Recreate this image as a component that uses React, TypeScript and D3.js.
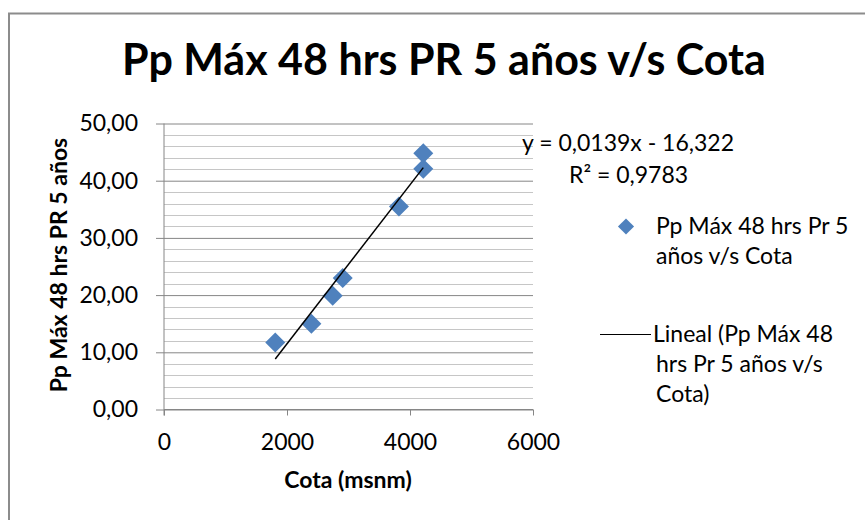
import React, { useEffect, useRef } from "react";
import * as d3 from "d3";

// elevation (m a.s.l.) and max 48h rainfall, 5-year return period
const cotas = [1809, 2396, 2743, 2906, 3820, 4216, 4216];
const ppMax = [11.7, 15.0, 19.9, 23.0, 35.5, 42.1, 44.8];

const xTicks = [0, 2000, 4000, 6000];
const yTicks = [0, 10, 20, 30, 40, 50];
const yMinor = d3.range(0, 51, 2);

const trendSlope = 0.0139;
const trendIntercept = -16.322;

const title = "Pp Máx 48 hrs PR 5 años v/s Cota";
const xTitle = "Cota (msnm)";
const yTitle = "Pp Máx 48 hrs PR 5 años";
const eqText = "y = 0,0139x - 16,322";
const r2Text = "R² = 0,9783";
const legendSeries = ["Pp Máx 48 hrs Pr 5", "años v/s Cota"];
const legendTrend = ["Lineal (Pp Máx 48", "hrs Pr 5 años v/s", "Cota)"];

const W = 865;
const H = 520;
const FONT = "Lato, 'Open Sans', sans-serif";
const BLUE = "#4f81bd";

const esLocale = d3.formatLocale({
  decimal: ",",
  thousands: ".",
  grouping: [3],
  currency: ["", ""],
});

const App: React.FC = () => {
  const svgRef = useRef<SVGSVGElement>(null);

  useEffect(() => {
    if (!svgRef.current) return;
    const svg = d3.select(svgRef.current);
    svg.selectAll("*").remove();

    const plot = { left: 164, right: 533, top: 123.5, bottom: 409.5 };

    const x = d3.scaleLinear().domain([0, 6000]).range([plot.left, plot.right]);
    const y = d3.scaleLinear().domain([0, 50]).range([plot.bottom, plot.top]);

    // chart frame
    svg
      .append("rect")
      .attr("x", 9)
      .attr("y", 13.5)
      .attr("width", W)
      .attr("height", H)
      .attr("fill", "#fff")
      .attr("stroke", "#8c8c8c")
      .attr("stroke-width", 2);

    svg
      .append("text")
      .attr("x", 444)
      .attr("y", 75)
      .attr("text-anchor", "middle")
      .attr("font-family", FONT)
      .attr("font-weight", "bold")
      .attr("font-size", 43)
      .text(title);

    // minor gridlines
    svg
      .append("g")
      .selectAll("line")
      .data(yMinor.filter((v) => v % 10 !== 0))
      .join("line")
      .attr("x1", plot.left)
      .attr("x2", plot.right)
      .attr("y1", (d) => Math.round(y(d)) + 0.5)
      .attr("y2", (d) => Math.round(y(d)) + 0.5)
      .attr("stroke", "#c6c6c6")
      .attr("stroke-width", 1);

    // major gridlines
    svg
      .append("g")
      .attr("transform", `translate(${plot.left},0)`)
      .call(
        d3
          .axisLeft(y)
          .tickValues(yTicks)
          .tickSize(-(plot.right - plot.left))
          .tickFormat(() => "") as any
      )
      .call((g) => g.select(".domain").remove())
      .selectAll("line")
      .attr("stroke", "#868686");

    // y axis
    const yAxis = svg
      .append("g")
      .attr("transform", `translate(${plot.left},0)`)
      .call(
        d3
          .axisLeft(y)
          .tickValues(yTicks)
          .tickSize(8)
          .tickPadding(18)
          .tickFormat((d) => esLocale.format(".2f")(d as number)) as any
      );
    yAxis.select(".domain").attr("stroke", "#868686").attr("d", `M0,${plot.top}V${plot.bottom + 6}`);
    yAxis.selectAll("line").attr("stroke", "#868686");
    yAxis
      .selectAll("text")
      .attr("font-family", FONT)
      .attr("font-size", 23)
      .attr("fill", "#000");

    // x axis
    const xAxis = svg
      .append("g")
      .attr("transform", `translate(0,${plot.bottom})`)
      .call(
        d3
          .axisBottom(x)
          .tickValues(xTicks)
          .tickSize(6)
          .tickPadding(18)
          .tickFormat((d) => String(d)) as any
      );
    xAxis.select(".domain").attr("stroke", "#868686").attr("d", `M${plot.left},0H${plot.right}`);
    xAxis.selectAll("line").attr("stroke", "#868686");
    xAxis
      .selectAll("text")
      .attr("font-family", FONT)
      .attr("font-size", 23)
      .attr("fill", "#000");

    // axis titles
    svg
      .append("text")
      .attr("x", 348)
      .attr("y", 488)
      .attr("text-anchor", "middle")
      .attr("font-family", FONT)
      .attr("font-weight", "bold")
      .attr("font-size", 23)
      .text(xTitle);

    svg
      .append("text")
      .attr("transform", "translate(67,265) rotate(-90)")
      .attr("text-anchor", "middle")
      .attr("font-family", FONT)
      .attr("font-weight", "bold")
      .attr("font-size", 23)
      .text(yTitle);

    // data points
    const diamond = d3.symbol().type(d3.symbolSquare).size(200);
    svg
      .append("g")
      .selectAll("path")
      .data(cotas.map((c, i) => ({ x: c, y: ppMax[i] })))
      .join("path")
      .attr("d", diamond())
      .attr("transform", (d) => `translate(${x(d.x)},${y(d.y)}) rotate(45)`)
      .attr("fill", BLUE);

    // linear trendline
    const xExt = d3.extent(cotas) as [number, number];
    const trend = xExt.map((c) => ({ x: c, y: trendSlope * c + trendIntercept }));
    svg
      .append("path")
      .attr(
        "d",
        d3
          .line<{ x: number; y: number }>()
          .x((d) => x(d.x))
          .y((d) => y(d.y))(trend) || ""
      )
      .attr("fill", "none")
      .attr("stroke", "#000")
      .attr("stroke-width", 1.5);

    // equation label
    const eq = svg
      .append("text")
      .attr("font-family", FONT)
      .attr("font-size", 23)
      .attr("fill", "#000");
    eq.append("tspan").attr("x", 522).attr("y", 151).text(eqText);
    eq.append("tspan").attr("x", 569).attr("y", 183).text(r2Text);

    // legend
    const legend = svg.append("g").attr("font-family", FONT).attr("font-size", 23);
    legend
      .append("path")
      .attr("d", d3.symbol().type(d3.symbolSquare).size(130)())
      .attr("transform", "translate(626,226.5) rotate(45)")
      .attr("fill", BLUE);
    legend
      .append("text")
      .selectAll("tspan")
      .data(legendSeries)
      .join("tspan")
      .attr("x", 656)
      .attr("y", (_, i) => 234 + i * 30)
      .text((d) => d);
    legend
      .append("line")
      .attr("x1", 600)
      .attr("x2", 651)
      .attr("y1", 334.5)
      .attr("y2", 334.5)
      .attr("stroke", "#000")
      .attr("stroke-width", 1.2);
    legend
      .append("text")
      .selectAll("tspan")
      .data(legendTrend)
      .join("tspan")
      .attr("x", (_, i) => (i === 0 ? 653 : 656))
      .attr("y", (_, i) => 342 + i * 30)
      .text((d) => d);
  }, []);

  return (
    <svg
      ref={svgRef}
      width={W}
      height={H}
      style={{ position: "absolute", left: 0, top: 0, background: "#fff" }}
    />
  );
};

export default App;
